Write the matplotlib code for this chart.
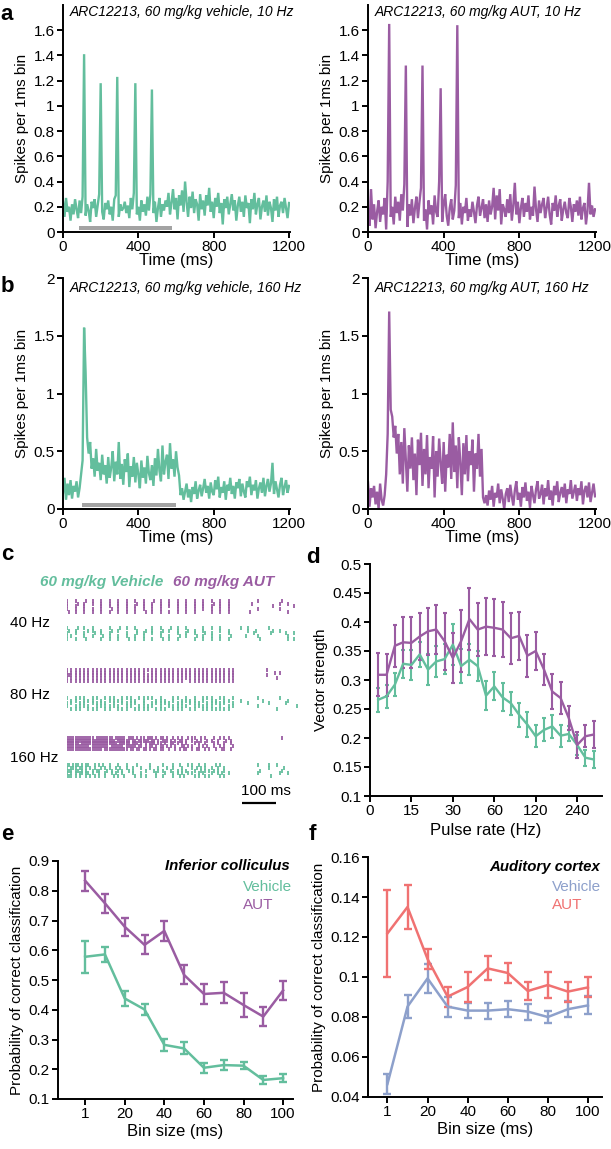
import numpy as np
import matplotlib
matplotlib.use("Agg")
import matplotlib.pyplot as plt
from matplotlib.ticker import FuncFormatter

plt.rcParams['font.family'] = ['Liberation Sans', 'DejaVu Sans']

GREEN = '#63BE9D'
PURPLE = '#9A5CA2'
BLUE = '#8DA0CB'
RED = '#F07272'
GREY = '#A3A3A3'

# ---------------- data ----------------
psth_step_ms = 8
psth_veh_10 = [24,12,27,16,20,9,22,14,26,18,
               11,25,15,28,141,13,22,17,8,24,
               19,26,12,21,30,118,16,10,23,18,
               25,14,20,9,26,29,123,12,22,17,
               19,24,15,21,11,27,18,31,118,14,
               20,9,25,16,22,13,28,17,30,113,
               15,24,8,19,27,12,22,17,25,20,
               31,14,23,34,18,27,10,29,21,33,
               16,40,24,12,28,19,32,15,26,22,
               9,30,18,25,13,29,21,35,16,24,
               11,27,20,31,15,23,6,26,19,28,
               14,22,30,17,25,9,21,28,16,24,
               12,29,19,23,7,26,18,31,14,22,
               27,10,20,25,16,29,13,24,19,8,
               26,17,28,12,21,24,15,27,19,11,
               23]
psth_aut_10 = [18,5,34,10,22,3,16,25,8,20,
               14,27,2,40,165,12,20,6,28,15,
               24,9,30,17,38,132,4,22,13,26,
               7,19,28,11,24,35,132,9,18,2,
               25,14,21,6,29,16,12,40,114,8,
               22,30,13,5,19,26,10,17,37,164,
               11,23,6,20,15,27,9,18,12,24,
               16,7,21,28,13,19,26,11,22,8,
               25,14,20,35,10,29,17,34,6,22,
               18,12,26,15,30,9,21,39,14,24,
               7,19,27,12,23,16,29,10,20,13,
               36,18,8,25,15,22,27,11,19,28,
               14,6,23,17,29,12,21,26,9,18,
               24,15,11,27,20,8,22,16,25,13,
               28,10,19,23,6,17,39,14,21,12,
               18]
psth_veh_160 = [14,27,8,22,12,25,9,20,15,24,
                10,18,30,42,157,118,62,48,58,35,
                44,28,52,33,40,25,47,30,38,22,
                45,27,36,50,24,41,30,58,26,39,
                21,43,32,48,19,37,28,45,23,40,
                30,18,42,27,36,22,46,31,25,38,
                20,44,29,52,33,24,55,30,41,47,
                26,57,35,43,28,50,36,29,12,18,
                8,15,22,10,17,6,19,13,24,9,
                16,21,11,18,26,14,20,9,23,15,
                12,25,17,28,10,19,14,24,8,21,
                16,27,13,20,9,23,18,26,11,22,
                15,10,24,19,28,12,21,16,25,9,
                18,23,14,27,11,20,26,15,22,40,
                13,24,17,10,21,27,12,19,25,14,
                20]
psth_aut_160 = [23,2,18,10,20,4,15,0,22,8,
                3,12,30,65,171,86,80,62,72,48,
                65,30,58,22,70,42,15,55,35,62,
                25,48,12,60,38,66,20,52,30,64,
                18,45,35,63,10,50,28,61,40,22,
                58,15,47,36,65,26,75,32,55,18,
                62,40,12,57,30,64,24,50,38,60,
                15,48,35,65,28,52,10,5,12,3,
                16,8,20,2,14,10,22,5,17,9,
                0,13,18,6,21,11,3,16,24,8,
                14,2,19,10,23,7,15,1,20,12,
                5,17,24,9,13,21,4,18,11,25,
                8,16,3,20,12,24,6,14,19,10,
                22,5,17,13,25,9,15,21,7,18,
                12,24,4,16,20,10,23,6,14,22,
                11]
stim_bar_10 = (85, 580)
stim_bar_160 = (100, 600)
psth_titles = ['ARC12213, 60 mg/kg vehicle, 10 Hz', 'ARC12213, 60 mg/kg AUT, 10 Hz',
               'ARC12213, 60 mg/kg vehicle, 160 Hz', 'ARC12213, 60 mg/kg AUT, 160 Hz']

# raster: char = 6.25 ms bin ('x' spike); part after '|' starts at 500 ms
raster_bin_ms = 6.25
raster_40_aut = [
 "x...x....x..x...x...x...x...x...x...x....x..x...x...x...x...x...x...x...x...x...|..........x..........x......",
 "x....x..x...x...x...x...x...x....x..x...x...x...x...x...x...x...x....x..x...x...|.......x............x...x...",
 "x...x...x.......x...x...x...x...x...x...x...x...x...x...x...x...x...x...x...x...|.................x.........x",
 "x...x...x...x...x....x..x...x...x...x...x...x.......x...x...x...x...x...x...x...|..........x.........x.......",
 ".x..x...x...x...x...x...x...x...x....x..x...x...x...x...x...x.......x...x...x...|......x.................x...",
]
raster_40_veh = [
 "x....x..x...x.......x....x..x...x.......x...x....x..x...x.......x...x...x.......|..x..x.........x............",
 ".x..x.....x.x...x....x..x........x...x..x....x..x...x....x..x...x.......x...x...|.....x...x.......x..x.......",
 "x...x...x....x..x...x.......x....x..x...x...x.......x...x...x....x..x.......x...|........x.......x......x...x",
 "x.x.....x...x....x..x...x...x...x...x.......x...x....x..x....x..x...x...x....x..|....x.....x.............x...",
 "x...x....x......x...x...x....x..x...x...x....x..x...x.......x...x...x...x...x...|...........x............x..x",
]
raster_80_aut = [
 "x.x.x.x.x.x.x.x.x.x.x.x.x.x.x.x.x.x.x.x.x.x.x.x.x.x.x.x.x.x.x.x.x.x.x.x.x.x.x.x.|..............x.............",
 "x.x.x.x.x.x.x.x.x.x.x.x.x.x.x.x.x.x.x...x.x.x.x.x.x.x.x.x.x.x.x.x.x.x.x.x.x.x.x.|..................x.x.......",
 "xxx.x.x.x.x.x.x.x.x.x.x.x.x.x.x.x.x.x.x.x.x.x.x.x.x.x.x.x.x.x.x.x.x.x.x.x.x.x.x.|..............x.............",
 "x.x.x.x.x.x.x.x.x.x.x.x.x.x.x.x.x.x.x.x.x.x.x.x.x.x.x.x.x.x.x.x.x.x.x.x.x.x.x.x.|...................x........",
 "x.x.x.x.x.x.x.x.x.x.x.x.x.x.x.x.x.x.x.x.x.x.x.x.x.x.x.x...x.x.x.x.x.x.x.x.x.x.x.|............................",
]
raster_80_veh = [
 "x...x.x.x...x.x...x.x.x...x.x.x...x.x.x.x...x.....x.x...x...x...x.x.x...x.x...x.|..........x.........x.......",
 "..x.x...x.x.x...x...x.x.x.x...x.x...x.....x.x.x...x...x.x.x.x...x...x.x...x.x...|..x.........x...........x...",
 "x.x...x.x...x.x.x.x...x...x.x.x.x...x...x.x.x.x.x...x.x...x.x.x...x.x.x.x.x...x.|.....x.........x.......x....",
 "x...x.x.x.x...x.x.x.x.x.x...x.x...x.x.x.x...x...x.x.x.x.x...x.x.x.x.x...x...x.x.|..........x.................x",
 "..x.x.x...x.x.x...x.x...x.x.x...x.x.x.x...x.x.x...x.x.x...x.x...x.x.x.x.x.x.x...|...................x........",
]
raster_160_aut = [
 "xxxxxxxxxxxxx.xxxxxxxx.xxxxx.xxx.x.xx.xxx.x.xx.x..x.x.x..x.xx..x.x...x..x.x.x..|.....................x",
 "xxxxxxxxxxxxxxxxxxxxxxx.xxxxxx.xx.xxxxx.xx.x.xxx.x.x.xx.x..x.x.x..x.x..x...x.x.|",
 "xxxxxx.xxxxxxxxxxxxxxxxx.xxxxx.xxx.x.x.xxx.xx.x..xx.x.x.x...x.x..x...x.x..x..x.|",
 "xxxxxxxxxxx.xxxxxxxx.xxxxxx.xxxxx.xx.x.xx.x.xx.x.x.x..xx.x.x..x.x.x..x..x.x...x|",
 "xxxxxxxxxxxxxxxxx.xxxxxxxxxxx.xx.xx.xx.x.xx.xx..x..x.x.xx..x.xx..x.x..x..xx..x.|",
]
raster_160_veh = [
 "xx.xxx.x.xx..x.x.x..x...x...x....x.....x.....x....x..x...x.x..x..x....x.x......|..........x....x...x.",
 "x.xxx.xx.x.x.x..x.x.x..x.x..x..x...x...x...x...x..x...x....x.x.x.x..x..x..x....|...............x......x",
 "xxx.xx.x.x..x.xx...x.x..x.x..x.x.....x...x.x.x...x..x.x.x...x..x.x.x.x.x..x....|...........x.........x",
 "x.x.x.xx.xx.x..x..x..x.x..x....x...x......x...x...x.x.x..x.x..x.x...x..x.x..x..|..........x.........x...x",
 "xxx.x.x..x.x.x.x..x...x.x..x....x..x.x....x..x....x..x.x....x.x..x.x....x.x....|................x...",
]

# panel d
vs_x_idx = list(range(1, 28))
vs_tick_idx = [0, 5, 10, 15, 20, 25]
vs_tick_labels = ['0', '15', '30', '60', '120', '240']
vs_aut = [0.309,0.309,0.359,0.365,0.364,0.375,0.384,0.387,0.367,0.338,0.367,0.405,0.387,0.392,
          0.390,0.387,0.372,0.376,0.342,0.350,0.318,0.280,0.269,0.234,0.188,0.203,0.206]
vs_aut_err = [0.037,0.036,0.036,0.044,0.044,0.040,0.041,0.042,0.049,0.043,0.054,0.054,0.046,0.049,
              0.049,0.048,0.044,0.042,0.036,0.032,0.026,0.030,0.028,0.021,0.022,0.019,0.024]
vs_veh = [0.266,0.272,0.292,0.328,0.326,0.344,0.318,0.332,0.336,0.361,0.324,0.335,0.324,0.273,
          0.289,0.270,0.260,0.240,0.223,0.203,0.214,0.220,0.204,0.207,0.188,0.166,0.163]
vs_veh_err = [0.021,0.020,0.020,0.024,0.026,0.021,0.026,0.026,0.026,0.035,0.029,0.027,0.026,0.025,
              0.024,0.024,0.020,0.021,0.022,0.019,0.020,0.020,0.019,0.013,0.017,0.014,0.015]

# panels e, f
bin_labels = ['1', '10', '20', '30', '40', '50', '60', '70', '80', '90', '100']
bin_tick_labels = ['1', '20', '40', '60', '80', '100']
ic_aut = [0.834,0.758,0.679,0.618,0.665,0.517,0.453,0.457,0.416,0.377,0.465]
ic_aut_err = [0.034,0.032,0.031,0.032,0.035,0.032,0.034,0.035,0.039,0.031,0.033]
ic_veh = [0.578,0.586,0.438,0.401,0.282,0.270,0.205,0.214,0.212,0.164,0.170]
ic_veh_err = [0.053,0.024,0.024,0.018,0.020,0.020,0.016,0.017,0.011,0.014,0.013]
ac_aut = [0.1218,0.1350,0.1090,0.0902,0.0950,0.1043,0.1020,0.0930,0.0960,0.0927,0.0948]
ac_aut_err = [0.0216,0.0110,0.0050,0.0050,0.0075,0.0060,0.0052,0.0045,0.0065,0.0050,0.0050]
ac_veh = [0.0465,0.0852,0.0993,0.0852,0.0832,0.0832,0.0839,0.0827,0.0800,0.0839,0.0858]
ac_veh_err = [0.0052,0.0058,0.0073,0.0050,0.0037,0.0040,0.0040,0.0040,0.0030,0.0040,0.0045]

# ---------------- figure ----------------
W, H = 611, 1149
fig = plt.figure(figsize=(W/100, H/100), dpi=100)

TICK_FS = 11
XLAB_FS = 12
YLAB_FS = 11

def ax_px(x0, y0, x1, y1):
    return fig.add_axes([x0/W, 1 - y1/H, (x1 - x0)/W, (y1 - y0)/H])

def style(ax, fs=TICK_FS):
    for s in ['top', 'right']:
        ax.spines[s].set_visible(False)
    for s in ['left', 'bottom']:
        ax.spines[s].set_linewidth(1.4)
    ax.tick_params(width=1.4, length=4, labelsize=fs, pad=2, direction='out')

fmt = FuncFormatter(lambda v, p: f'{round(v, 2):g}')

def psth(ax, vals, color, title, ymax, yticks, title_y, bar=None):
    t = np.arange(len(vals)) * psth_step_ms
    y = np.array(vals) / 100.0
    ax.plot(t, y, color=color, lw=1.7, solid_joinstyle='miter')
    if bar is not None:
        ax.fill_between([bar[0], bar[1]], 0.008*ymax, 0.026*ymax, color=GREY, lw=0)
    ax.set_xlim(0, 1205)
    ax.set_ylim(0, ymax)
    ax.set_xticks([0, 400, 800, 1200])
    ax.set_yticks(yticks)
    ax.yaxis.set_major_formatter(fmt)
    style(ax)
    ax.set_xlabel('Time (ms)', fontsize=XLAB_FS, labelpad=-1)
    ax.set_ylabel('Spikes per 1ms bin', fontsize=YLAB_FS, labelpad=3)
    ax.text(0.03, title_y, title, transform=ax.transAxes, fontsize=10, style='italic',
            ha='left', va='top')

a1 = ax_px(63, 5, 290, 232)
psth(a1, psth_veh_10, GREEN, psth_titles[0], 1.8, np.arange(0, 1.61, 0.2), 1.0, stim_bar_10)
a2 = ax_px(368, 5, 596, 232)
psth(a2, psth_aut_10, PURPLE, psth_titles[1], 1.8, np.arange(0, 1.61, 0.2), 1.0)
b1 = ax_px(63, 278, 290, 509)
psth(b1, psth_veh_160, GREEN, psth_titles[2], 2.0, [0, 0.5, 1, 1.5, 2], 0.985, stim_bar_160)
b2 = ax_px(368, 278, 596, 509)
psth(b2, psth_aut_160, PURPLE, psth_titles[3], 2.0, [0, 0.5, 1, 1.5, 2], 0.985)

# ---- panel c raster ----
c = ax_px(67, 585, 299, 815)
c.set_xlim(0, 682)
c.set_ylim(815, 585)
c.axis('off')

def draw_block(rows, y_top, color):
    xs, ys = [], []
    for k, row in enumerate(rows):
        parts = row.split('|')
        yk = y_top + 1.3 + 2.6 * k
        for i, ch in enumerate(parts[0]):
            if ch == 'x':
                xs.append(i * raster_bin_ms); ys.append(yk)
        if len(parts) > 1:
            for i, ch in enumerate(parts[1]):
                if ch == 'x':
                    xs.append(500 + i * raster_bin_ms); ys.append(yk)
    c.scatter(xs, ys, s=6.5, marker='|', color=color, linewidths=1.3)

draw_block(raster_40_aut, 600, PURPLE)
draw_block(raster_40_veh, 627, GREEN)
draw_block(raster_80_aut, 669, PURPLE)
draw_block(raster_80_veh, 697, GREEN)
draw_block(raster_160_aut, 737, PURPLE)
draw_block(raster_160_veh, 764, GREEN)
c.plot([515, 615], [803, 803], color='black', lw=1.6, solid_capstyle='butt')
c.text(512, 798, '100 ms', fontsize=11, ha='left', va='bottom')
for lab, yy in [('40 Hz', 623), ('80 Hz', 695), ('160 Hz', 758)]:
    fig.text(10/W, 1 - yy/H, lab, fontsize=11, ha='left', va='center')
fig.text(40/W, 1 - 582/H, '60 mg/kg Vehicle', color=GREEN, fontsize=11,
         fontweight='bold', style='italic', ha='left', va='center')
fig.text(173/W, 1 - 582/H, '60 mg/kg AUT', color=PURPLE, fontsize=11,
         fontweight='bold', style='italic', ha='left', va='center')

# ---- panel d ----
d = ax_px(370, 564, 602, 796)
eb = dict(lw=1.7, elinewidth=1.5, capsize=1.3, capthick=1.5)
d.errorbar(vs_x_idx, vs_veh, yerr=vs_veh_err, color=GREEN, **eb)
d.errorbar(vs_x_idx, vs_aut, yerr=vs_aut_err, color=PURPLE, **eb)
d.set_xlim(0, 28)
d.set_ylim(0.1, 0.5)
d.set_xticks(vs_tick_idx)
d.set_xticklabels(vs_tick_labels)
d.set_yticks(np.arange(0.1, 0.501, 0.05))
d.yaxis.set_major_formatter(fmt)
style(d)
d.set_xlabel('Pulse rate (Hz)', fontsize=XLAB_FS, labelpad=3)
d.set_ylabel('Vector strength', fontsize=YLAB_FS, labelpad=3)

# ---- panels e, f ----
bin_pos = np.arange(len(bin_labels))
tick_pos = [bin_labels.index(l) for l in bin_tick_labels]
eb2 = dict(lw=1.8, elinewidth=1.7, capsize=3.2, capthick=1.7)

e = ax_px(58, 861, 293, 1099)
e.errorbar(bin_pos, ic_veh, yerr=ic_veh_err, color=GREEN, **eb2)
e.errorbar(bin_pos, ic_aut, yerr=ic_aut_err, color=PURPLE, **eb2)
e.set_xlim(-1.37, 10.5)
e.set_ylim(0.1, 0.9)
e.set_xticks(tick_pos)
e.set_xticklabels(bin_tick_labels)
e.set_yticks(np.arange(0.1, 0.91, 0.1))
e.yaxis.set_major_formatter(fmt)
style(e)
e.set_xlabel('Bin size (ms)', fontsize=XLAB_FS, labelpad=2)
e.set_ylabel('Probability of correct classification', fontsize=YLAB_FS, labelpad=3)
fig.text(290/W, 1 - 866/H, 'Inferior colliculus', fontsize=10.8, fontweight='bold',
         style='italic', ha='right', va='center')
fig.text(243/W, 1 - 887/H, 'Vehicle', color=GREEN, fontsize=11, ha='left', va='center')
fig.text(243/W, 1 - 905/H, 'AUT', color=PURPLE, fontsize=11, ha='left', va='center')

f = ax_px(368, 857, 602, 1097)
f.errorbar(bin_pos, ac_veh, yerr=ac_veh_err, color=BLUE, **eb2)
f.errorbar(bin_pos, ac_aut, yerr=ac_aut_err, color=RED, **eb2)
f.set_xlim(-0.97, 10.7)
f.set_ylim(0.04, 0.16)
f.set_xticks(tick_pos)
f.set_xticklabels(bin_tick_labels)
f.set_yticks(np.arange(0.04, 0.161, 0.02))
f.yaxis.set_major_formatter(fmt)
style(f)
f.set_xlabel('Bin size (ms)', fontsize=XLAB_FS, labelpad=2)
f.set_ylabel('Probability of correct classification', fontsize=YLAB_FS, labelpad=3)
fig.text(600/W, 1 - 867/H, 'Auditory cortex', fontsize=10.8, fontweight='bold',
         style='italic', ha='right', va='center')
fig.text(552/W, 1 - 887/H, 'Vehicle', color=BLUE, fontsize=11, ha='left', va='center')
fig.text(552/W, 1 - 905/H, 'AUT', color=RED, fontsize=11, ha='left', va='center')

# panel letters (baseline positions)
for lab, x, y in [('a', 0, 20), ('b', 1, 292), ('c', 1, 560), ('d', 306, 563),
                  ('e', 1, 840), ('f', 309, 840)]:
    fig.text(x/W, 1 - y/H, lab, fontsize=16, fontweight='bold', ha='left', va='baseline')

fig.savefig('out.png', dpi=100)
